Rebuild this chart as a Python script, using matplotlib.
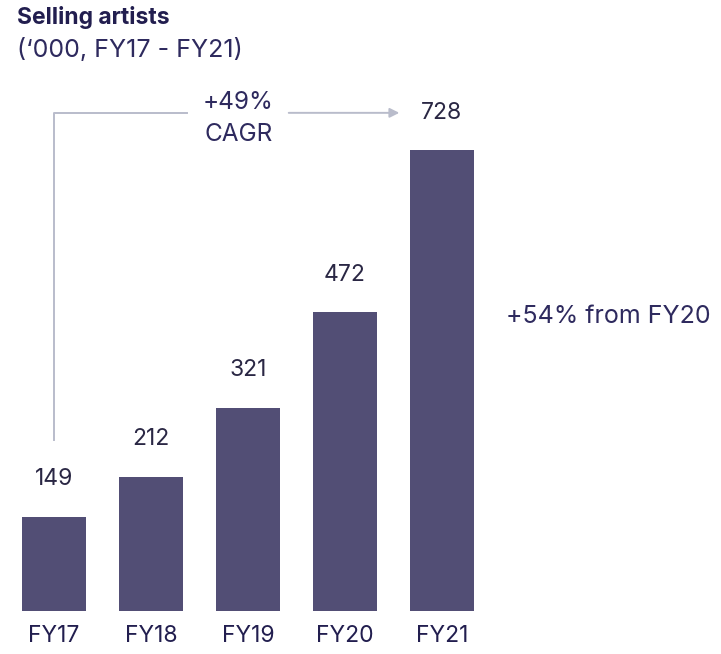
import matplotlib
matplotlib.use("Agg")
import matplotlib.pyplot as plt

years = ["FY17", "FY18", "FY19", "FY20", "FY21"]
artists = [149, 212, 321, 472, 728]
cagr_lines = ["+49%", "CAGR"]
growth_text = "+54% from FY20"

BAR = "#524e75"
INK = "#221e4f"
LINE = "#b9bccb"

plt.rcParams["font.family"] = ["Inter", "DejaVu Sans"]

fig = plt.figure(figsize=(7.21, 6.54), dpi=100)
# axes spans full width; bottom at the bar baseline
ax = fig.add_axes([0, 1 - 611 / 654, 1, (611 - 79.3) / 654])
ax.set_xlim(-54 / 97, (721 - 54) / 97)
ax.set_ylim(0, 840)
for s in ax.spines.values():
    s.set_visible(False)
ax.set_yticks([])

x = list(range(len(years)))
ax.bar(x, artists, width=64 / 97, color=BAR)
ax.set_xticks(x, years)
ax.tick_params(axis="x", length=0, pad=10, labelsize=16.5, labelcolor=INK)

for xi, v in zip(x, artists):
    ax.annotate(str(v), (xi, v), xytext=(0, 27), textcoords="offset points",
                ha="center", va="center", fontsize=16.5, color="#2a2744")

# CAGR bracket from FY17 to FY21
top = 787
ax.plot([0, 0, 1.37], [270, top, top], color=LINE, lw=1.4)
ax.annotate("", xy=(3.56, top), xytext=(2.42, top),
            arrowprops=dict(arrowstyle="-|>", color=LINE, lw=1.4,
                            mutation_scale=14, shrinkA=0, shrinkB=0))
ax.text(1.90, 793, cagr_lines[0], ha="center", va="baseline", fontsize=17.5,
        color="#2e2a5e")
ax.text(1.90, 742, cagr_lines[1], ha="center", va="baseline", fontsize=17.5,
        color="#2e2a5e")

ax.text(5.71, 466, growth_text, ha="center", va="center", fontsize=18,
        color="#2e2a5e")

fig.text(17 / 721, 1 - 24 / 654, "Selling artists", ha="left", va="baseline",
         fontsize=16.5, fontweight="bold", color=INK)
fig.text(17 / 721, 1 - 57 / 654, "(\u2018000, FY17 - FY21)", ha="left",
         va="baseline", fontsize=18, color="#2e2a5e")

fig.savefig("out.png", dpi=100)
